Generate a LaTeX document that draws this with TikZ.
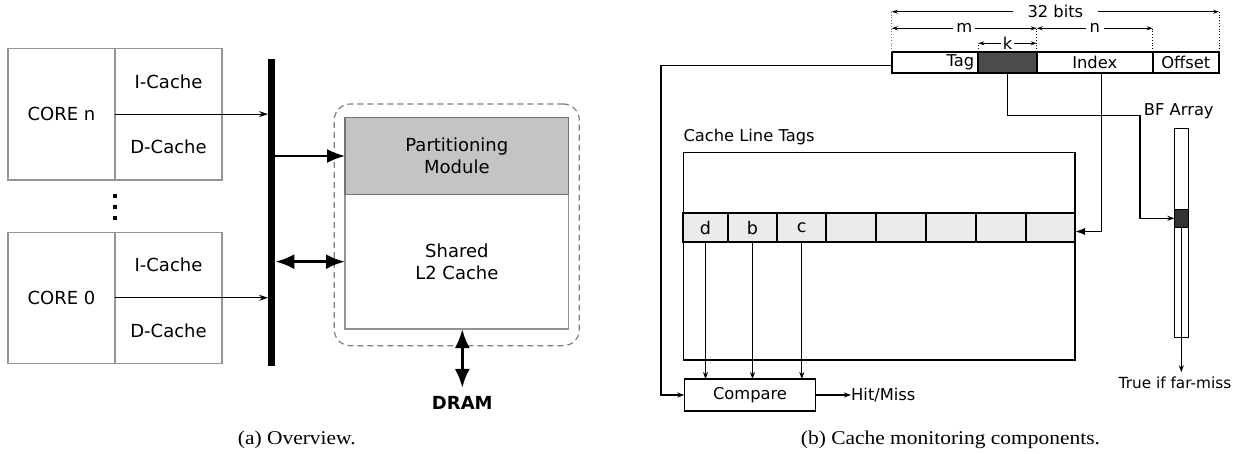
\documentclass[tikz,border=0pt]{standalone}
\usepackage{graphicx}
\usepackage{fontspec}
\setmainfont{DejaVu Sans}
\newfontfamily\capfamily{Liberation Serif}
\usetikzlibrary{arrows.meta}
\newcommand\lftfont{\fontsize{18}{22}\selectfont}
\newcommand\rgtfont{\fontsize{16.3}{19}\selectfont}
\newcommand\capfont{\capfamily\fontsize{19.5}{22}\selectfont}
\begin{document}
\begin{tikzpicture}[x=1pt,y=-1pt,
  lbox/.style={draw=black!42, line width=1.2pt, inner sep=0pt, outer sep=0pt, anchor=north west, font=\lftfont, align=center},
  blk/.style={draw=black, inner sep=0pt, outer sep=0pt, anchor=north west, font=\rgtfont},
  cellbox/.style={blk, fill=black!8, line width=1.8pt, minimum height=29.6, font=\fontsize{17.5}{20}\selectfont},
  lbl/.style={inner sep=0pt, font=\rgtfont},
  tarr/.style={line width=0.9pt, -{Stealth[length=9pt,width=6pt]}},
  barr/.style={line width=2pt, -{Latex[length=18pt,width=14pt]}},
  dbarr/.style={line width=3pt, {Latex[length=19pt,width=15pt]}-{Latex[length=19pt,width=15pt]}},
  sarr/.style={line width=1.1pt, -{Stealth[length=7pt,width=5pt]}},
  marr/.style={line width=1.4pt, -{Latex[length=10pt,width=7pt]}},
  dimarr/.style={{Stealth[length=6pt,width=4pt]}-{Stealth[length=6pt,width=4pt]}},
  dotsq/.style={fill=black, inner sep=0pt, minimum width=3.4, minimum height=4},
  guide/.style={dotted, line width=0.8pt}
]
\useasboundingbox (0,0) rectangle (1250,453);

% ---------------- (a) Overview ----------------
\node[lbox, minimum width=107, minimum height=131.7] (coreN) at (8,48.3) {CORE n};
\node[lbox, minimum width=107, minimum height=66] (icN) at (115,48.3) {I-Cache};
\node[lbox, minimum width=107, minimum height=65.7] (dcN) at (115,114.3) {D-Cache};

\node[lbox, minimum width=107, minimum height=131] (core0) at (8,232.3) {CORE 0};
\node[lbox, minimum width=107, minimum height=65.5] (ic0) at (115,232.3) {I-Cache};
\node[lbox, minimum width=107, minimum height=65.5] (dc0) at (115,297.8) {D-Cache};

\node[dotsq] (dta) at (115,196) {};
\node[dotsq] (dtb) at (115,207.3) {};
\node[dotsq] (dtc) at (115,217.8) {};

\node[fill=black, inner sep=0pt, outer sep=0pt, anchor=north west, minimum width=7.3, minimum height=307] (bus) at (268,59) {};

\draw[tarr] (coreN.east) -- (coreN.east -| bus.west);
\draw[tarr] (core0.east) -- (core0.east -| bus.west);

\node[draw=black!50, dash pattern=on 6pt off 4pt, rounded corners=16pt, line width=1.2pt,
      inner sep=0pt, outer sep=0pt, anchor=north west, minimum width=245, minimum height=241.7] (grp) at (334.3,104) {};
\node[lbox, minimum width=223.7, minimum height=134.7] (shared) at (345,194.3) {Shared\\L2 Cache};
\node[lbox, draw=black!55, fill=black!23, minimum width=223.7, minimum height=76.6] (part) at (345,117.7) {Partitioning\\Module};

\draw[barr] (part.west -| bus.east) -- (part.west);
\draw[dbarr] (shared.west -| bus.east) -- (shared.west);

\node[font=\lftfont\bfseries, inner sep=8pt] (dram) at (462.3,402.7) {DRAM};
\draw[dbarr] (dram.north |- shared.south) -- (dram.north);

\node[anchor=base west, inner sep=0pt, font=\capfont] (capa) at (237.7,444.5) {\scalebox{1.1}[1]{(a)\ Overview.}};

% ---------------- (b) Cache monitoring components ----------------
% address fields
\node[blk, line width=1.8pt, minimum width=86.6, minimum height=21.6, text width=78.6, align=right, inner xsep=4pt] (tagF) at (891.7,51.7) {Tag};
\node[blk, line width=1.8pt, fill=black!70, minimum width=58.4, minimum height=21.6] (kF) at (978.3,51.7) {};
\node[blk, line width=1.8pt, minimum width=116, minimum height=21.6] (idxF) at (1036.7,51.7) {Index};
\node[blk, line width=1.8pt, minimum width=66.3, minimum height=21.6] (offF) at (1152.7,51.7) {Offset};

% dimension guides
\draw[guide, black!55] (tagF.north west) -- ([yshift=40pt]tagF.north west);
\draw[guide] (offF.north east) -- ([yshift=40pt]offF.north east);
\draw[guide] (kF.north east) -- ([yshift=23.4pt]kF.north east);
\draw[guide] (idxF.north east) -- ([yshift=23.4pt]idxF.north east);
\draw[guide] (kF.north west) -- ([yshift=8.4pt]kF.north west);

\draw[dimarr, line width=0.8pt] ([yshift=40pt]tagF.north west) -- ([yshift=40pt]offF.north east)
  node[midway, fill=white, inner xsep=15pt, inner ysep=1pt, font=\rgtfont] (bits) {32 bits};
\draw[dimarr, line width=1.6pt] ([yshift=23.4pt]tagF.north west) -- ([yshift=23.4pt]kF.north east)
  node[midway, fill=white, inner xsep=3pt, inner ysep=1pt, font=\rgtfont] (mlab) {m};
\draw[dimarr, line width=1.6pt] ([yshift=23.4pt]idxF.north west) -- ([yshift=23.4pt]idxF.north east)
  node[midway, fill=white, inner xsep=4pt, inner ysep=1pt, font=\rgtfont] (nlab) {n};
\draw[dimarr, line width=1pt] ([yshift=8.4pt]kF.north west) -- ([yshift=8.4pt]kF.north east)
  node[midway, fill=white, inner xsep=2pt, inner ysep=0.5pt, font=\rgtfont] (klab) {k};

% cache line tags
\node[lbl, anchor=base west] (clt) at (683.3,141.5) {Cache Line Tags};
\node[blk, line width=1.6pt, minimum width=391.7, minimum height=207.7] (tags) at (683.3,152.3) {};
\foreach \a/\b/\n/\t in {683.3/727.7/1/d, 727.7/777.3/2/b, 777.3/826.3/3/c, 826.3/876.3/4/{},
                         876.3/925.7/5/{}, 925.7/976/6/{}, 976/1025.7/7/{}, 1025.7/1075/8/{}}{
  \pgfmathsetmacro\w{\b-\a}
  \node[cellbox, minimum width=\w] (r\n) at (\a,212.7) {\t};
}

% compare
\node[blk, line width=1.3pt, minimum width=131.4, minimum height=32] (cmp) at (684.3,379) {Compare};
\foreach \n in {1,2,3}{
  \draw[sarr] (r\n.south) -- (r\n.south |- cmp.north);
}
\node[lbl, anchor=west] (hm) at (851,395) {Hit/Miss};
\draw[sarr] (cmp.east) -- (cmp.east -| hm.west);

% tag to compare
\coordinate (lft) at (661,0);
\draw[sarr, line width=1.3pt] ([yshift=-3pt]tagF.west) -| (lft |- cmp.west) -- (cmp.west);

% index to row
\draw[marr] ([xshift=7pt]idxF.south) |- ([yshift=-4pt]r8.east);

% BF array
\node[lbl] (bfl) at (1178.8,111.7) {BF Array};
\node[blk, line width=1pt, minimum width=14, minimum height=209] (bf) at (1174.3,128.3) {};
\node[blk, fill=black!80, line width=1.5pt, minimum width=14, minimum height=18] (bfd) at (1174.3,209.3) {};
\coordinate (bend) at (1140,115.7);
\draw[sarr, line width=1.2pt] (kF.south) |- (bend) |- (bfd.west);

\node[inner sep=4pt, font=\fontsize{15.3}{18}\selectfont] (tf) at (1175,382.3) {True if far-miss};
\draw[sarr] (bfd.south) -- (bfd.south |- tf.north);

\node[anchor=base west, inner sep=0pt, font=\capfont] (capb) at (800.7,444.5) {\scalebox{1.1}[1]{(b)\ Cache monitoring components.}};
\end{tikzpicture}
\end{document}
